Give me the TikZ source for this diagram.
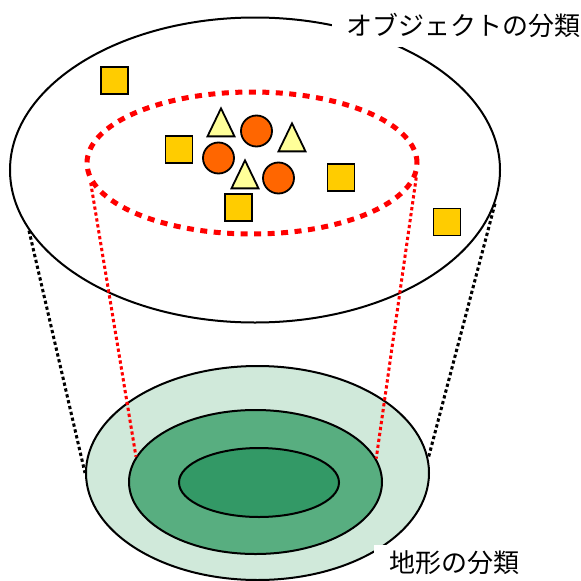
\documentclass[tikz,border=0pt]{standalone}
\usepackage{fontspec}
\newfontfamily\jafont{Noto Sans CJK JP}
\usepackage{xcolor}
\usetikzlibrary{shapes.geometric}
\definecolor{jaune}{HTML}{FFCC00}
\definecolor{orange}{HTML}{FF6600}
\definecolor{jaunepale}{HTML}{FFFF99}
\definecolor{vertclair}{HTML}{D0E9DA}
\definecolor{vertmoyen}{HTML}{58AE80}
\definecolor{vertfonce}{HTML}{339966}
\definecolor{rouge}{HTML}{FF0000}
\tikzset{
  zone/.style={ellipse, draw=black, line width=2pt, inner sep=0pt},
  carreobj/.style={rectangle, draw=black, fill=jaune, line width=1.8pt,
    minimum size=27pt, inner sep=0pt},
  rondobj/.style={circle, draw=black, fill=orange, line width=1.8pt,
    minimum size=31pt, inner sep=0pt},
  triobj/.style={isosceles triangle, shape border rotate=90,
    isosceles triangle stretches, draw=black, fill=jaunepale, line width=1.8pt,
    minimum width=27pt, minimum height=28pt, inner sep=0pt},
  selection/.style={ellipse, draw=rouge, line width=5pt, inner sep=0pt,
    dash pattern=on 7pt off 6.5pt},
  pointilles/.style={line width=3pt, dash pattern=on 3.3pt off 2.7pt},
  etiquette/.style={font=\jafont\fontsize{26}{30}\selectfont, fill=white},
}
\begin{document}
\begin{tikzpicture}[x=1pt, y=-1pt]
  \useasboundingbox (0,0) rectangle (581,581);

  % classification des objets
  \node[zone, minimum width=490pt, minimum height=305pt] (objets) at (255,170) {};

  \node[carreobj] (c1) at (114.5,80.5) {};
  \node[carreobj] (c2) at (179,149.5) {};
  \node[carreobj] (c3) at (341,177.5) {};
  \node[carreobj] (c4) at (238.5,207.5) {};
  \node[carreobj] (c5) at (447,222) {};

  \node[rondobj] (r1) at (256.5,131) {};
  \node[rondobj] (r2) at (218.5,158) {};
  \node[rondobj] (r3) at (278.5,178) {};

  \node[triobj, anchor=apex] (t1) at (221,106) {};
  \node[triobj, anchor=apex] (t2) at (292,121) {};
  \node[triobj, anchor=apex] (t3) at (245,158) {};

  \node[selection, minimum width=330pt, minimum height=142pt] (choix) at (252,163) {};

  % classification du terrain
  \node[zone, fill=vertclair, minimum width=343pt, minimum height=214pt] (terrainext) at (257.5,473) {};
  \node[zone, fill=vertmoyen, minimum width=253pt, minimum height=144pt] (terrainmil) at (255.5,482) {};
  \node[zone, fill=vertfonce, minimum width=160pt, minimum height=69pt] (terrainint) at (259,482.5) {};

  \draw[pointilles, color=black] (objets.195) -- (terrainext.180);
  \draw[pointilles, color=black] (objets.352) -- (terrainext.5.4);
  \draw[pointilles, color=rouge] (choix.187) -- (terrainmil.168.9);
  \draw[pointilles, color=rouge] (choix.355) -- (terrainmil.11.3);

  \node[etiquette, inner xsep=14pt, inner ysep=10pt] (titreobjets) at (463,25) {オブジェクトの分類};
  \node[etiquette, inner xsep=15pt, inner ysep=6pt] (titreterrain) at (454,563) {地形の分類};
\end{tikzpicture}
\end{document}
